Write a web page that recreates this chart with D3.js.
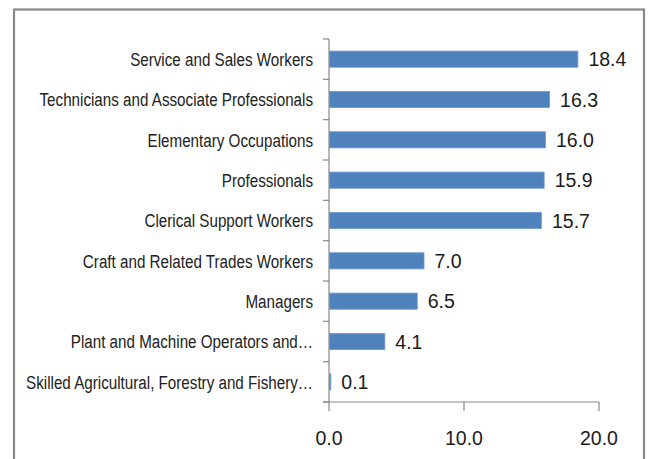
<!DOCTYPE html>
<html><head><meta charset="utf-8">
<script src="https://cdn.jsdelivr.net/npm/d3@7"></script>
<style>html,body{margin:0;padding:0;background:#fff;}svg{display:block;}</style>
</head><body>
<svg id="chart" width="651" height="459"></svg>
<script>
const categories = [
  "Service and Sales Workers",
  "Technicians and Associate Professionals",
  "Elementary Occupations",
  "Professionals",
  "Clerical Support Workers",
  "Craft and Related Trades Workers",
  "Managers",
  "Plant and Machine Operators and…",
  "Skilled Agricultural, Forestry and Fishery…"
];
const values = [18.4, 16.3, 16.0, 15.9, 15.7, 7.0, 6.5, 4.1, 0.1];
const xTicks = [0, 10, 20];

const svg = d3.select("#chart");
// frame
svg.append("rect").attr("x", 14).attr("y", 9.5).attr("width", 630).attr("height", 470)
  .attr("fill", "#fff").attr("stroke", "#888").attr("stroke-width", 2.2);

const x0 = 329, x1 = 599, yTop = 39, yBot = 402;
const x = d3.scaleLinear().domain([0, 20]).range([x0, x1]);
const y = d3.scaleBand().domain(categories).range([yTop, yBot]).paddingInner(0.6).paddingOuter(0.3);

const axisColor = "#888";
// bars
svg.append("g").selectAll("rect").data(values).join("rect")
  .attr("x", x(0) + 0.5)
  .attr("y", (d, i) => y(categories[i]))
  .attr("width", d => x(d) - x(0))
  .attr("height", y.bandwidth())
  .attr("fill", "#4F81BD")
  .attr("stroke", "#6f9bd0").attr("stroke-width", 0.8);

// value labels
svg.append("g").selectAll("text").data(values).join("text")
  .attr("x", d => x(d) + 11)
  .attr("y", (d, i) => y(categories[i]) + y.bandwidth() / 2 + 7)
  .attr("font-family", "'Liberation Sans', Arial, sans-serif")
  .attr("font-size", 19.5).attr("fill", "#1a1a1a")
  .text(d => d.toFixed(1));

// y axis (band boundary ticks)
const ya = svg.append("g");
ya.append("line").attr("x1", x0).attr("x2", x0).attr("y1", yTop).attr("y2", yBot)
  .attr("stroke", axisColor).attr("stroke-width", 1.2);
d3.range(categories.length + 1).forEach(i => {
  const yy = yTop + i * (yBot - yTop) / categories.length;
  ya.append("line").attr("x1", x0 - 6).attr("x2", x0).attr("y1", yy).attr("y2", yy)
    .attr("stroke", axisColor).attr("stroke-width", 1.2);
});
const labG = ya.append("g").attr("transform", "translate(313,0) scale(0.8,1)");
labG.selectAll("text.cat").data(categories).join("text").attr("class", "cat")
  .attr("x", 0).attr("y", d => y(d) + y.bandwidth() / 2 + 7)
  .attr("text-anchor", "end")
  .attr("font-family", "'Liberation Sans', Arial, sans-serif")
  .attr("font-size", 19).attr("fill", "#222")
  .text(d => d);

// x axis
const xa = svg.append("g").attr("transform", `translate(0,${yBot})`);
xa.append("line").attr("x1", x0 - 6).attr("x2", x1).attr("y1", 0).attr("y2", 0)
  .attr("stroke", axisColor).attr("stroke-width", 1.2);
xa.selectAll("line.t").data(xTicks).join("line").attr("class", "t")
  .attr("x1", d => x(d)).attr("x2", d => x(d)).attr("y1", 0).attr("y2", 9)
  .attr("stroke", axisColor).attr("stroke-width", 1.2);
xa.selectAll("text").data(xTicks).join("text")
  .attr("x", d => x(d)).attr("y", 43).attr("text-anchor", "middle")
  .attr("font-family", "'Liberation Sans', Arial, sans-serif")
  .attr("font-size", 19.5).attr("fill", "#1a1a1a")
  .text(d => d.toFixed(1));
</script>
</body></html>
